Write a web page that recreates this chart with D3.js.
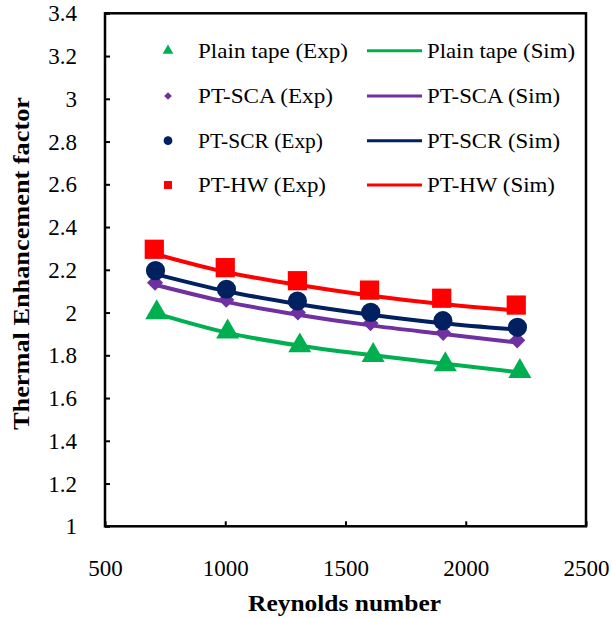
<!DOCTYPE html>
<html>
<head>
<meta charset="utf-8">
<script src="https://cdn.jsdelivr.net/npm/d3@7"></script>
<style>
  body { margin: 0; background: #fff; }
  svg text { font-family: "Liberation Serif", "Times New Roman", serif; fill: #000; }
</style>
</head>
<body>
<div id="grafico"></div>
<script>
// Valores
const reGreen  = [715, 1010, 1310, 1615, 1915, 2225];
const rePurple = [708, 1004, 1302, 1604, 1906, 2214];
const reNavy   = [710, 1005, 1300, 1605, 1905, 2215];
const reRed    = [705, 1000, 1300, 1600, 1900, 2210];

const plainExp = [2.00, 1.91, 1.845, 1.80, 1.757, 1.725];
const scaExp   = [2.14, 2.06, 2.00, 1.95, 1.905, 1.87];
const scrExp   = [2.196, 2.109, 2.054, 2.001, 1.962, 1.931];
const hwExp    = [2.296, 2.210, 2.149, 2.105, 2.067, 2.035];

const plainSim = [1.995, 1.905, 1.845, 1.80, 1.76, 1.72];
const scaSim   = [2.13, 2.05, 1.99, 1.94, 1.90, 1.86];
const scrSim   = [2.18, 2.10, 2.04, 1.99, 1.95, 1.92];
const hwSim    = [2.275, 2.19, 2.13, 2.08, 2.04, 2.01];

const xTicks = [500, 1000, 1500, 2000, 2500];
const yTicks = [1, 1.2, 1.4, 1.6, 1.8, 2, 2.2, 2.4, 2.6, 2.8, 3, 3.2, 3.4];

const expLabels = ["Plain tape (Exp)", "PT-SCA (Exp)", "PT-SCR (Exp)", "PT-HW (Exp)"];
const simLabels = ["Plain tape (Sim)", "PT-SCA (Sim)", "PT-SCR (Sim)", "PT-HW (Sim)"];

const cores = ["#00b050", "#7030a0", "#002060", "#ff0000"];

const width = 612, height = 618;
const plot = { left: 105, right: 586, top: 13.3, bottom: 526.3 };
const serif = "Liberation Serif, Times New Roman, serif";

const svg = d3.select("#grafico")
              .append("svg")
              .attr("width", width)
              .attr("height", height);

const x = d3.scaleLinear().domain([500, 2500]).range([plot.left, plot.right]);
const y = d3.scaleLinear().domain([1, 3.4]).range([plot.bottom, plot.top]);

// Eixo x (ticks para dentro)
const xAxis = svg.append("g")
   .attr("transform", `translate(0, ${plot.bottom})`)
   .call(d3.axisBottom(x).tickValues(xTicks).tickSizeInner(-5).tickSizeOuter(0).tickPadding(50)
           .tickFormat(d3.format("d")));
xAxis.select(".domain").remove();
xAxis.attr("font-family", serif);
xAxis.selectAll("line").attr("stroke", "#000").attr("stroke-width", 2);
xAxis.selectAll("text").attr("font-size", "23px").attr("font-family", serif).attr("dy", "0");

// Eixo y (ticks para dentro)
const yAxis = svg.append("g")
   .attr("transform", `translate(${plot.left}, 0)`)
   .call(d3.axisLeft(y).tickValues(yTicks).tickSizeInner(-5).tickSizeOuter(0).tickPadding(28)
           .tickFormat(d => String(+d.toFixed(1))));
yAxis.select(".domain").remove();
yAxis.attr("font-family", serif);
yAxis.selectAll("line").attr("stroke", "#000").attr("stroke-width", 2);
yAxis.selectAll("text").attr("font-size", "23px").attr("font-family", serif).attr("dy", "0.33em");

// Moldura
svg.append("rect")
   .attr("x", plot.left).attr("y", plot.top)
   .attr("width", plot.right - plot.left).attr("height", plot.bottom - plot.top)
   .attr("fill", "none").attr("stroke", "#000").attr("stroke-width", 2.5);

// Titulos dos eixos
svg.append("text")
   .attr("x", 344.5)
   .attr("y", 611)
   .attr("text-anchor", "middle")
   .attr("font-size", "23px")
   .attr("font-weight", "bold")
   .attr("textLength", 193)
   .attr("lengthAdjust", "spacingAndGlyphs")
   .text("Reynolds number");

svg.append("text")
   .attr("transform", "translate(29, 263.5) rotate(-90)")
   .attr("text-anchor", "middle")
   .attr("font-size", "23px")
   .attr("font-weight", "bold")
   .attr("textLength", 333)
   .attr("lengthAdjust", "spacingAndGlyphs")
   .text("Thermal Enhancement factor");

// Series
const series = [
  { re: reGreen,  exp: plainExp, sim: plainSim, cor: cores[0], sym: d3.symbolTriangle, size: 230, rot: 0 },
  { re: rePurple, exp: scaExp,   sim: scaSim,   cor: cores[1], sym: d3.symbolSquare,   size: 130, rot: 45 },
  { re: reNavy,   exp: scrExp,   sim: scrSim,   cor: cores[2], sym: d3.symbolCircle,   size: 290, rot: 0 },
  { re: reRed,    exp: hwExp,    sim: hwSim,    cor: cores[3], sym: d3.symbolSquare,   size: 370, rot: 0 }
];

const linha = d3.line()
                .x(d => x(d[0]))
                .y(d => y(d[1]))
                .curve(d3.curveMonotoneX);

series.forEach(s => {
  svg.append("path")
     .datum(d3.zip(s.re, s.sim))
     .attr("d", linha)
     .attr("fill", "none")
     .attr("stroke", s.cor)
     .attr("stroke-width", 4);
});

series.forEach(s => {
  svg.selectAll(null)
     .data(d3.zip(s.re, s.exp))
     .enter()
     .append("path")
     .attr("d", d3.symbol(s.sym, s.size))
     .attr("transform", d => `translate(${x(d[0])}, ${y(d[1])}) rotate(${s.rot})`)
     .attr("fill", s.cor);
});

// Legenda (larguras medidas na figura)
const legY = [50.7, 96, 140.7, 185];
const legSizes = [50, 30, 60, 64];
const expW = [150, 135, 125, 128];
const simW = [148, 133, 133, 128];
series.forEach((s, i) => {
  svg.append("path")
     .attr("d", d3.symbol(s.sym, legSizes[i]))
     .attr("transform", `translate(168, ${legY[i]}) rotate(${s.rot})`)
     .attr("fill", s.cor);
  svg.append("text")
     .attr("x", 198).attr("y", legY[i]).attr("dy", "0.33em")
     .attr("font-size", "21px")
     .attr("font-family", serif)
     .attr("textLength", expW[i])
     .attr("lengthAdjust", "spacingAndGlyphs")
     .text(expLabels[i]);
  svg.append("line")
     .attr("x1", 367).attr("x2", 422)
     .attr("y1", legY[i]).attr("y2", legY[i])
     .attr("stroke", s.cor).attr("stroke-width", 3);
  svg.append("text")
     .attr("x", 427).attr("y", legY[i]).attr("dy", "0.33em")
     .attr("font-size", "21px")
     .attr("font-family", serif)
     .attr("textLength", simW[i])
     .attr("lengthAdjust", "spacingAndGlyphs")
     .text(simLabels[i]);
});
</script>
</body>
</html>
